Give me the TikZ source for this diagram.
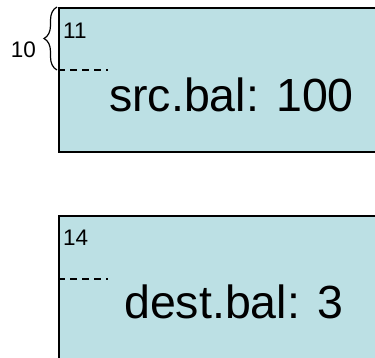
\documentclass[tikz,border=0pt]{standalone}
\usepackage{fontspec}
\setmainfont{Liberation Sans}
\usetikzlibrary{decorations.pathreplacing}
\definecolor{cellfill}{RGB}{188,224,228}
\tikzset{
  cell/.style={draw=black, line width=2pt, fill=cellfill, anchor=north west,
    minimum width=340pt, minimum height=144pt, inner sep=0pt},
  bigtext/.style={font=\fontsize{46.5}{52}\selectfont, anchor=base west, inner sep=0pt},
  smalltext/.style={font=\fontsize{22.5}{26}\selectfont, inner sep=0pt},
  divider/.style={line width=1.3pt, dash pattern=on 7pt off 5pt}
}
\begin{document}
\begin{tikzpicture}[x=1pt,y=-1pt]
  \useasboundingbox (0,0) rectangle (375,357);
  \clip (0,0) rectangle (375,357);
  % source cell
  \node[cell] (src) at (58,7) {};
  \node[smalltext, anchor=base west] (srcoff) at (63,38) {11};
  \coordinate (srcdl) at (58,70);
  \coordinate (srcdr) at (108,70);
  \draw[divider] (srcdl) -- (srcdr);
  \node[bigtext] (srcval) at (109,111) {src.bal: 100};
  % brace marking the header size
  \coordinate (bracelo) at (57,70);
  \coordinate (bracehi) at (57,7);
  \draw[line width=1.2pt, decorate, decoration={brace, amplitude=13pt}] (bracelo) -- (bracehi);
  \node[smalltext, anchor=base east] (hdr) at (36,57) {10};
  % destination cell
  \node[cell] (dst) at (58,215) {};
  \node[smalltext, anchor=base west] (dstoff) at (63,245) {14};
  \coordinate (dstdl) at (58,279);
  \coordinate (dstdr) at (108,279);
  \draw[divider] (dstdl) -- (dstdr);
  \node[bigtext] (dstval) at (124,318) {dest.bal: 3};
\end{tikzpicture}
\end{document}
